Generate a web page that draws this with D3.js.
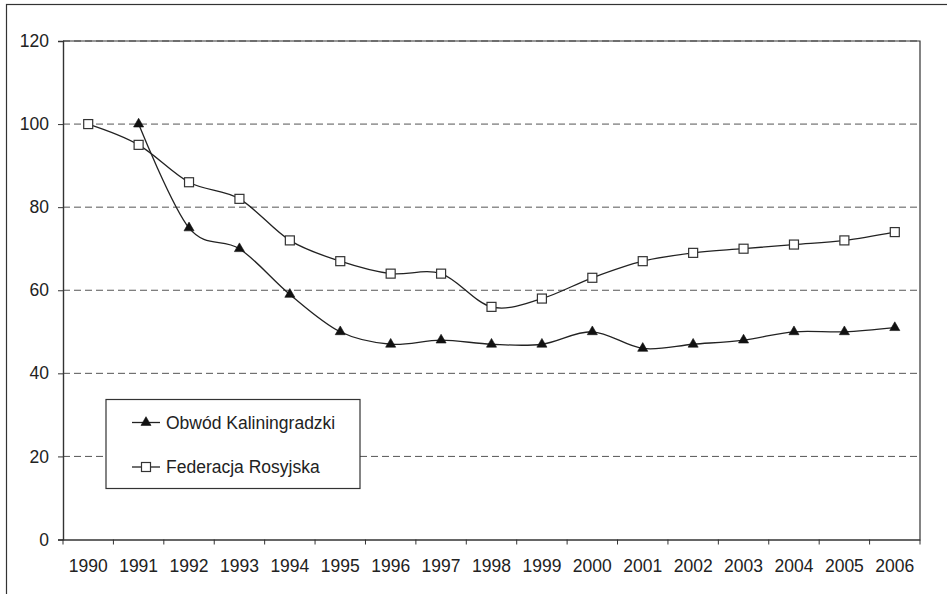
<!DOCTYPE html>
<html>
<head>
<meta charset="utf-8">
<script src="https://cdn.jsdelivr.net/npm/d3@7"></script>
<style>
  html, body { margin: 0; padding: 0; background: #fff; }
  svg { display: block; }
  text { font-family: "Liberation Sans", Arial, sans-serif; fill: #222; }
</style>
</head>
<body>
<svg id="chart" width="947" height="594"></svg>
<script>
const years = ["1990","1991","1992","1993","1994","1995","1996","1997","1998","1999","2000","2001","2002","2003","2004","2005","2006"];
const kaliningrad = [null,100,75,70,59,50,47,48,47,47,50,46,47,48,50,50,51];
const russia = [100,95,86,82,72,67,64,64,56,58,63,67,69,70,71,72,74];
const yTicks = [0,20,40,60,80,100,120];
const seriesNames = ["Obwód Kaliningradzki","Federacja Rosyjska"];

const svg = d3.select("#chart");
const plot = {left: 63, right: 920, top: 41, bottom: 539.5};
const fs = 17.5;

const x = d3.scaleBand().domain(years).range([plot.left, plot.right]).paddingInner(0).paddingOuter(0);
const y = d3.scaleLinear().domain([0,120]).range([plot.bottom, plot.top]);

// outer frame (left & top visible)
svg.append("rect").attr("x", 6.5).attr("y", 4.5).attr("width", 960).attr("height", 620)
  .attr("fill", "none").attr("stroke", "#333").attr("stroke-width", 1.2);

// gridlines
svg.append("g").selectAll("line").data(yTicks.filter(d => d > 0)).join("line")
  .attr("x1", plot.left).attr("x2", plot.right)
  .attr("y1", d => y(d)).attr("y2", d => y(d))
  .attr("stroke", "#555").attr("stroke-width", 1).attr("stroke-dasharray", "7,4");

// plot frame top/right
svg.append("path")
  .attr("d", `M${plot.left},${plot.top}H${plot.right}V${plot.bottom}`)
  .attr("fill", "none").attr("stroke", "#333").attr("stroke-width", 1.2);

// y axis
const yAxis = d3.axisLeft(y).tickValues(yTicks).tickSize(5).tickPadding(9).tickFormat(d3.format("d"));
const gy = svg.append("g").attr("transform", `translate(${plot.left},0)`).call(yAxis);
gy.select(".domain").attr("stroke", "#333").attr("stroke-width", 1.4);
gy.selectAll(".tick line").attr("stroke", "#333");
gy.selectAll(".tick text").attr("font-size", fs).attr("fill", "#222")
  .style("font-family", '"Liberation Sans", Arial, sans-serif');

// x axis
const xAxis = d3.axisBottom(x).tickSize(0).tickPadding(20);
const gx = svg.append("g").attr("transform", `translate(0,${plot.bottom})`).call(xAxis);
gx.select(".domain").attr("stroke", "#333").attr("stroke-width", 1.4);
gx.selectAll(".tick text").attr("font-size", fs).attr("fill", "#222")
  .style("font-family", '"Liberation Sans", Arial, sans-serif');
// boundary ticks
const bounds = years.map(d => x(d)).concat([x(years[years.length-1]) + x.bandwidth()]);
svg.append("g").selectAll("line").data(bounds).join("line")
  .attr("x1", d => d).attr("x2", d => d)
  .attr("y1", plot.bottom).attr("y2", plot.bottom + 5)
  .attr("stroke", "#333").attr("stroke-width", 1);

const cx = d => x(d) + x.bandwidth() / 2;
const line = d3.line()
  .defined(d => d.v !== null)
  .x(d => cx(d.year)).y(d => y(d.v))
  .curve(d3.curveCardinal.tension(0));

const kData = years.map((yr, i) => ({year: yr, v: kaliningrad[i]}));
const rData = years.map((yr, i) => ({year: yr, v: russia[i]}));

svg.append("path").datum(rData).attr("d", line)
  .attr("fill", "none").attr("stroke", "#222").attr("stroke-width", 1.3);
svg.append("path").datum(kData).attr("d", line)
  .attr("fill", "none").attr("stroke", "#222").attr("stroke-width", 1.3);

const tri = d3.symbol().type(d3.symbolTriangle).size(44);

svg.append("g").selectAll("path").data(kData.filter(d => d.v !== null)).join("path")
  .attr("d", tri)
  .attr("transform", d => `translate(${cx(d.year)},${y(d.v)})`)
  .attr("fill", "#111").attr("stroke", "#111").attr("stroke-width", 0.6);

svg.append("g").selectAll("rect").data(rData).join("rect")
  .attr("x", d => cx(d.year) - 4.5).attr("y", d => y(d.v) - 4.5)
  .attr("width", 9).attr("height", 9)
  .attr("fill", "#fff").attr("stroke", "#333").attr("stroke-width", 1.2);

// legend
const lg = svg.append("g");
lg.append("rect").attr("x", 106).attr("y", 399.5).attr("width", 254).attr("height", 89)
  .attr("fill", "#fff").attr("stroke", "#333").attr("stroke-width", 1.2);
const rows = [422.5, 467];
rows.forEach((ry, i) => {
  lg.append("line").attr("x1", 132).attr("x2", 160).attr("y1", ry).attr("y2", ry)
    .attr("stroke", "#222").attr("stroke-width", 1.3);
  if (i === 0) {
    lg.append("path").attr("d", tri).attr("transform", `translate(146,${ry})`)
      .attr("fill", "#111").attr("stroke", "#111").attr("stroke-width", 0.6);
  } else {
    lg.append("rect").attr("x", 141.5).attr("y", ry - 4.5).attr("width", 9).attr("height", 9)
      .attr("fill", "#fff").attr("stroke", "#333").attr("stroke-width", 1.2);
  }
  lg.append("text").attr("x", 166).attr("y", ry).attr("dy", "0.35em")
    .attr("font-size", fs).text(seriesNames[i]);
});
</script>
</body>
</html>
